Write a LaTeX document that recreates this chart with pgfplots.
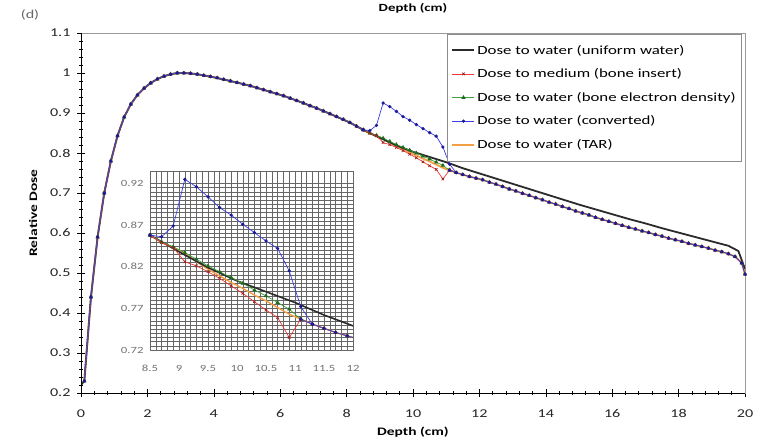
\documentclass[border=0pt]{standalone}
\usepackage{pgfplots}
\usepackage{pgfplotstable}
\pgfplotsset{compat=1.18}
\usepackage{fontspec}
\setmainfont{Carlito}[FakeStretch=1.35]

\definecolor{cBlack}{HTML}{2B2B2B}
\definecolor{cRed}{HTML}{F03A3A}
\definecolor{cRedM}{HTML}{A02020}
\definecolor{cGreen}{HTML}{3FA23F}
\definecolor{cGreenM}{HTML}{1F6A1F}
\definecolor{cBlue}{HTML}{3C3CE6}
\definecolor{cBlueM}{HTML}{1A1A9A}
\definecolor{cOrange}{HTML}{F2A045}

\pgfplotstableread{
d v
0.0 0.220
0.1 0.230
0.3 0.440
0.5 0.590
0.7 0.700
0.9 0.780
1.1 0.843
1.3 0.890
1.5 0.922
1.7 0.945
1.9 0.962
2.1 0.975
2.3 0.985
2.5 0.992
2.7 0.997
2.9 1.000
3.1 1.000
3.3 0.999
3.5 0.997
3.9 0.991
4.5 0.980
5.1 0.968
5.5 0.958
6.1 0.943
6.5 0.931
7.1 0.912
7.5 0.898
8.1 0.876
8.5 0.858
9.0 0.838
9.5 0.819
10.0 0.803
10.5 0.790
11.0 0.777
11.5 0.762
12.0 0.749
12.5 0.736
13.0 0.723
13.5 0.710
14.0 0.697
14.5 0.684
15.0 0.671
15.5 0.659
16.0 0.647
16.5 0.635
17.0 0.624
17.5 0.612
18.0 0.601
18.5 0.590
19.0 0.579
19.5 0.568
19.8 0.555
20.0 0.510
}\uniform

\pgfplotstableread{
d v
0.1 0.230
0.3 0.440
0.5 0.590
0.7 0.700
0.9 0.780
1.1 0.843
1.3 0.890
1.5 0.922
1.7 0.945
1.9 0.962
2.1 0.975
2.3 0.985
2.5 0.992
2.7 0.997
2.9 1.000
3.1 1.000
3.3 0.999
3.5 0.997
3.7 0.994
3.9 0.991
4.1 0.988
4.3 0.984
4.5 0.980
4.7 0.976
4.9 0.972
5.1 0.968
5.3 0.963
5.5 0.958
5.7 0.953
5.9 0.948
6.1 0.943
6.3 0.937
6.5 0.931
6.7 0.925
6.9 0.918
7.1 0.912
7.3 0.905
7.5 0.898
7.7 0.891
7.9 0.884
8.1 0.876
8.3 0.867
8.5 0.858
}\pre

\pgfplotstableread{
d v
11.1 0.757
11.3 0.751
11.5 0.746
11.7 0.741
11.9 0.737
12.1 0.733
12.3 0.727
12.5 0.722
12.7 0.716
12.9 0.710
13.1 0.705
13.3 0.699
13.5 0.694
13.7 0.688
13.9 0.683
14.1 0.677
14.3 0.672
14.5 0.666
14.7 0.661
14.9 0.655
15.1 0.650
15.3 0.645
15.5 0.639
15.7 0.634
15.9 0.629
16.1 0.624
16.3 0.619
16.5 0.614
16.7 0.610
16.9 0.605
17.1 0.601
17.3 0.596
17.5 0.592
17.7 0.587
17.9 0.583
18.1 0.579
18.3 0.574
18.5 0.570
18.7 0.566
18.9 0.562
19.1 0.557
19.3 0.553
19.5 0.548
19.7 0.541
19.9 0.525
20.0 0.497
}\post

\pgfplotstableread{
d v
8.5 0.858
8.7 0.849
8.9 0.843
9.1 0.826
9.3 0.821
9.5 0.814
9.7 0.806
9.9 0.797
10.1 0.788
10.3 0.778
10.5 0.768
10.7 0.759
10.9 0.735
11.1 0.757
}\midRed

\pgfplotstableread{
d v
8.5 0.858
8.7 0.850
8.9 0.844
9.1 0.837
9.3 0.829
9.5 0.821
9.7 0.814
9.9 0.807
10.1 0.800
10.3 0.792
10.5 0.785
10.7 0.777
10.9 0.769
11.1 0.757
}\midGreen

\pgfplotstableread{
d v
8.5 0.858
8.7 0.856
8.9 0.869
9.1 0.925
9.3 0.916
9.5 0.904
9.7 0.891
9.9 0.882
10.1 0.871
10.3 0.861
10.5 0.851
10.7 0.842
10.9 0.815
11.1 0.772
11.3 0.751
}\midBlue

\pgfplotstableread{
d v
8.5 0.858
8.7 0.849
8.9 0.843
9.1 0.836
9.3 0.826
9.5 0.817
9.7 0.809
9.9 0.801
10.1 0.794
10.3 0.786
10.5 0.779
10.7 0.771
10.9 0.763
11.1 0.757
}\midOrange

\pgfplotsset{
  sOrange/.style={color=cOrange, line width=1.8bp, no markers},
  sBlack/.style={color=cBlack, line width=1.8bp, no markers},
  sRed/.style={color=cRed, line width=0.7bp, mark=x, mark size=1.8bp, mark options={draw=cRedM, line width=0.7bp}},
  sGreen/.style={color=cGreen, line width=0.7bp, mark=triangle*, mark size=1.8bp, mark options={draw=cGreenM, fill=cGreenM}},
  sBlue/.style={color=cBlue, line width=0.7bp, mark=*, mark size=1.3bp, mark options={draw=cBlueM, fill=cBlueM}},
}

\begin{document}
\begin{tikzpicture}[x=1bp,y=1bp]
\useasboundingbox (-81bp,-55bp) rectangle (680bp,393bp);
\begin{axis}[
  name=main,
  at={(0,0)}, anchor=south west,
  scale only axis, width=664bp, height=360bp,
  xmin=0, xmax=20, ymin=0.2, ymax=1.1,
  xtick={0,2,...,20}, ytick={0.2,0.3,...,1.1},
  yticklabels={0.2,0.3,0.4,0.5,0.6,0.7,0.8,0.9,1,1.1},
  minor x tick num=4, minor y tick num=4,
  xtick pos=bottom, ytick pos=left,
  tick align=center,
  major tick length=8bp, minor tick length=4bp,
  every tick/.style={black, line width=0.6bp},
  axis line style={draw=black!40, line width=0.8bp},
  /pgf/number format/assume math mode=true,
  tick label style={font=\fontsize{12}{14}\selectfont, text=black!85},
  xticklabel style={yshift=-9bp},
  yticklabel style={xshift=-3bp},
  xlabel={\bfseries Depth (cm)},
  ylabel={\bfseries Relative Dose},
  label style={font=\fontsize{11.5}{13}\selectfont},
  xlabel style={yshift=-2bp},
  ylabel style={yshift=6bp},
  title={\bfseries Depth (cm)},
  title style={font=\fontsize{11}{13}\selectfont, yshift=10bp},
  clip=true,
  legend cell align=left,
  legend style={at={(0.995,0.997)}, anchor=north east, draw=black!45, line width=0.8bp, fill=white,
    font=\fontsize{12.5}{14}\selectfont, inner xsep=4bp, inner ysep=9bp, row sep=9bp, outer sep=0pt},
  legend image code/.code={\draw[mark repeat=2,mark phase=2,#1] plot coordinates {(0bp,0bp) (11bp,0bp) (22bp,0bp)};},
]
\addplot[sOrange, forget plot] table[x=d,y=v] {\pre};
\addplot[sOrange, forget plot] table[x=d,y=v] {\midOrange};
\addplot[sOrange, forget plot] table[x=d,y=v] {\post};
\addplot[sBlack, forget plot] table[x=d,y=v] {\uniform};
\addplot[sGreen, forget plot] table[x=d,y=v] {\pre};
\addplot[sGreen, forget plot] table[x=d,y=v] {\midGreen};
\addplot[sGreen, forget plot] table[x=d,y=v] {\post};
\addplot[sRed, forget plot] table[x=d,y=v] {\pre};
\addplot[sRed, forget plot] table[x=d,y=v] {\midRed};
\addplot[sRed, forget plot] table[x=d,y=v] {\post};
\addplot[sBlue, forget plot] table[x=d,y=v] {\pre};
\addplot[sBlue, forget plot] table[x=d,y=v] {\midBlue};
\addplot[sBlue, forget plot] table[x=d,y=v] {\post};
\addlegendimage{sBlack}
\addlegendentry{Dose to water (uniform water)}
\addlegendimage{sRed}
\addlegendentry{Dose to medium (bone insert)}
\addlegendimage{sGreen}
\addlegendentry{Dose to water (bone electron density)}
\addlegendimage{sBlue}
\addlegendentry{Dose to water (converted)}
\addlegendimage{sOrange}
\addlegendentry{Dose to water (TAR)}
\end{axis}
\draw[black, line width=0.8bp] (0,360) -- (0,0) -- (664,0);

\begin{axis}[
  at={(69bp,43bp)}, anchor=south west,
  scale only axis, width=203bp, height=179bp,
  xmin=8.5, xmax=12, ymin=0.72, ymax=0.935,
  xtick={8.5,9,...,12}, ytick={0.72,0.77,0.82,0.87,0.92},
  xticklabels={8.5,9,9.5,10,10.5,11,11.5,12},
  yticklabels={0.72,0.77,0.82,0.87,0.92},
  minor x tick num=4, minor y tick num=9,
  grid=both,
  major grid style={black!60, line width=0.5bp},
  minor grid style={black!60, line width=0.5bp},
  major tick length=0pt, minor tick length=0pt,
  axis line style={black!60, line width=0.5bp},
  axis background/.style={fill=white},
  /pgf/number format/assume math mode=true,
  tick label style={font=\fontsize{9.5}{11}\selectfont, text=black!55},
  xticklabel style={yshift=-12bp},
  yticklabel style={xshift=-3bp},
  clip=true,
]
\addplot[sOrange, line width=1.4bp] table[x=d,y=v] {\pre};
\addplot[sOrange, line width=1.4bp] table[x=d,y=v] {\midOrange};
\addplot[sOrange, line width=1.4bp] table[x=d,y=v] {\post};
\addplot[sBlack, line width=1.6bp] table[x=d,y=v] {\uniform};
\addplot[sGreen] table[x=d,y=v] {\pre};
\addplot[sGreen] table[x=d,y=v] {\midGreen};
\addplot[sGreen] table[x=d,y=v] {\post};
\addplot[sRed] table[x=d,y=v] {\pre};
\addplot[sRed] table[x=d,y=v] {\midRed};
\addplot[sRed] table[x=d,y=v] {\post};
\addplot[sBlue] table[x=d,y=v] {\pre};
\addplot[sBlue] table[x=d,y=v] {\midBlue};
\addplot[sBlue] table[x=d,y=v] {\post};
\end{axis}

\node[text=black!60, font=\fontsize{12}{14}\selectfont, anchor=center] at (-51bp,378bp) {(d)};
\end{tikzpicture}
\end{document}
